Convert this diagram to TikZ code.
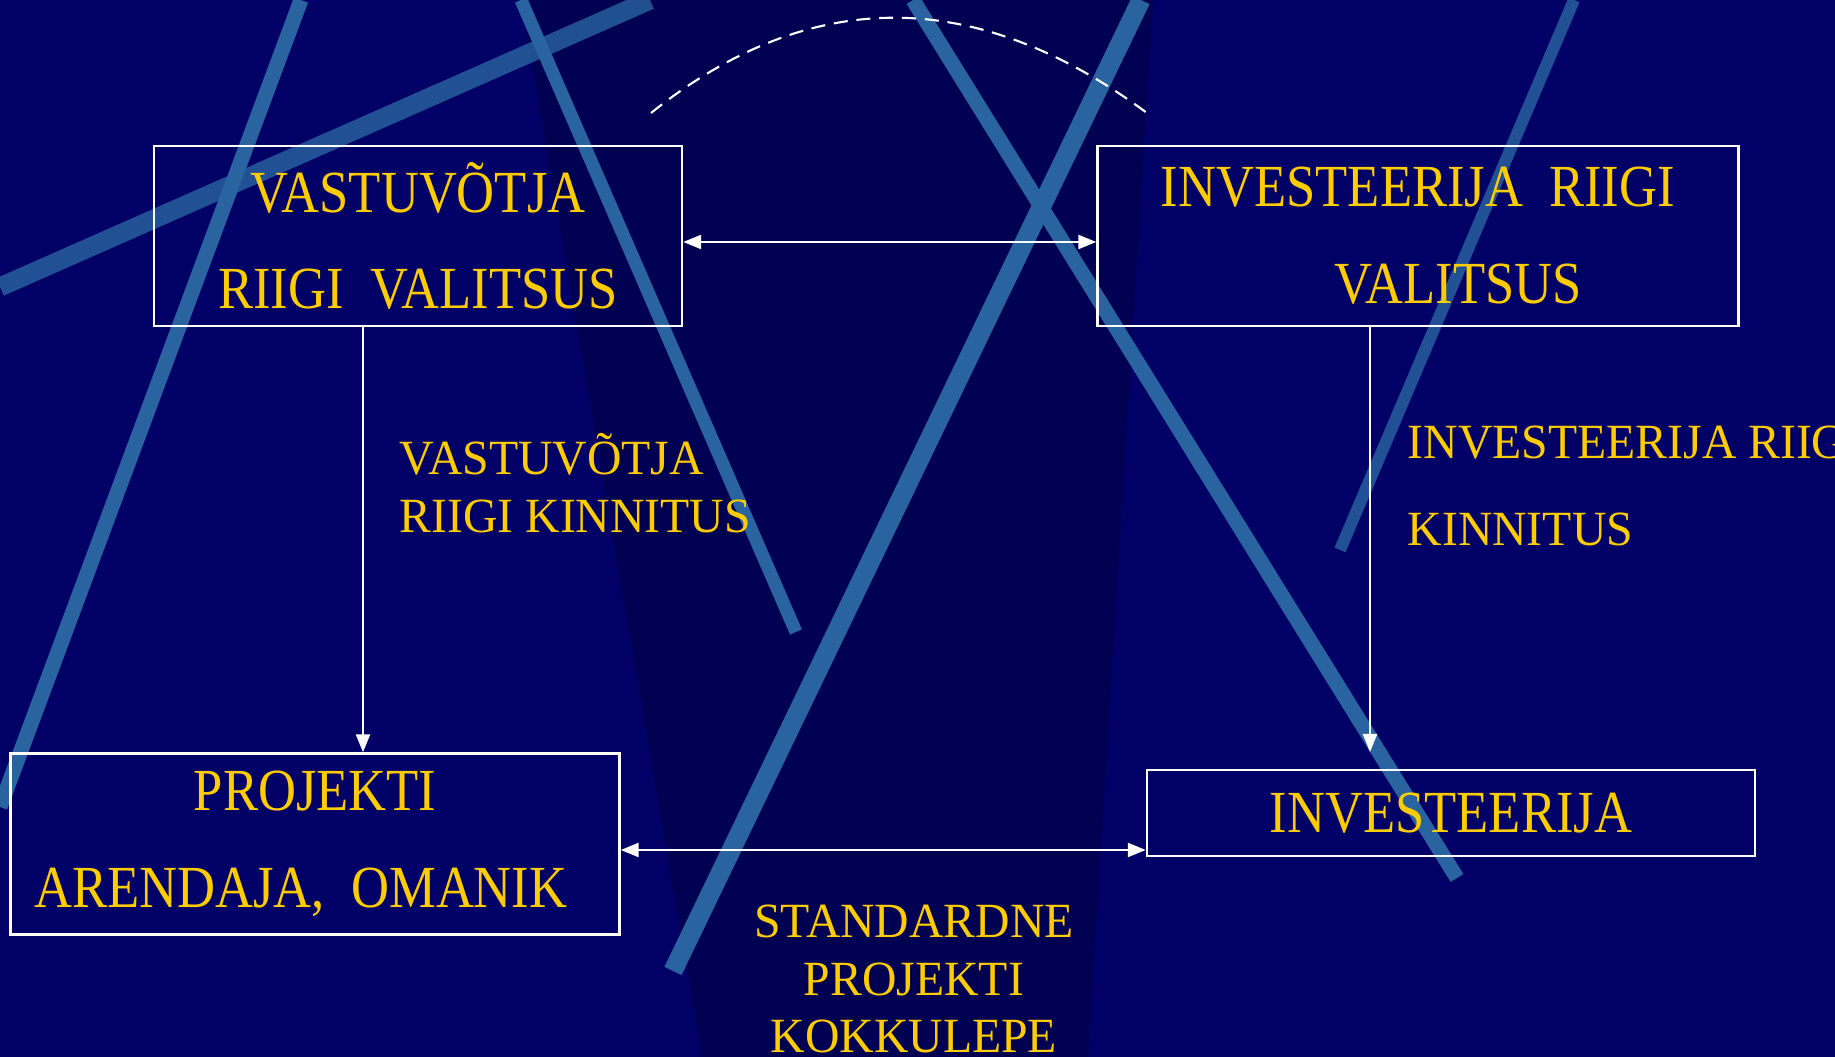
\documentclass[tikz,border=0pt]{standalone}
\usepackage{fontspec}
\setmainfont{Liberation Serif}
\newfontfamily\boxfont[FakeStretch=0.88]{Liberation Serif}
\newfontfamily\lblfont[FakeStretch=0.97]{Liberation Serif}
\usetikzlibrary{arrows.meta}
\definecolor{navy}{RGB}{0,0,102}
\definecolor{navydark}{RGB}{0,0,82}
\definecolor{streak}{RGB}{42,100,160}
\definecolor{gold}{RGB}{255,204,0}

\begin{document}
\begin{tikzpicture}[>={Triangle[length=1.8mm,width=1.4mm]},
  box/.style={draw=white,line width=0.7pt,inner sep=0pt,align=center,text=gold,
    font=\boxfont\fontsize{17pt}{27.5pt}\selectfont},
  lbl/.style={text=gold,inner sep=0pt,font=\lblfont\fontsize{14pt}{16.6pt}\selectfont},
  arr/.style={white,line width=0.7pt},
  streakline/.style={streak,line width=0.15cm}]
  \useasboundingbox (0,0) rectangle (18.35,10.57);
  \fill[navy] (0,0) rectangle (18.35,10.57);

  % background streaks
  \begin{scope}
    \clip (0,0) rectangle (18.35,10.57);
    \fill[navydark] (5.21,10.57) -- (11.53,10.57) -- (10.88,0) -- (7.02,0) -- cycle;
    \draw[streakline] (3.01,10.57) -- (0,2.50);
    \draw[streakline,line width=0.19cm,opacity=0.8] (6.50,10.57) -- (0,7.70);
    \draw[streakline,line width=0.13cm] (5.21,10.57) -- (7.96,4.25);
    \draw[streakline,line width=0.19cm] (11.41,10.57) -- (6.73,0.86);
    \draw[streakline] (9.13,10.57) -- (14.57,1.79);
    \draw[streakline,line width=0.12cm,opacity=0.8] (15.74,10.57) -- (13.40,5.07);
  \end{scope}

  % boxes
  \node[box,minimum width=5.28cm,minimum height=1.80cm] (v1) at (4.18,8.21)
    {VASTUVÕTJA\\RIIGI\ \ VALITSUS};
  \node[box,minimum width=6.41cm,minimum height=1.80cm] (v2) at (14.18,8.21)
    {INVESTEERIJA\ \ RIIGI\\\hspace*{0.8cm}VALITSUS};
  \node[box,minimum width=6.09cm,minimum height=1.81cm] (p1) at (3.15,2.13)
    {PROJEKTI\\ARENDAJA,\ \ OMANIK\hspace*{0.28cm}};
  \node[box,minimum width=6.08cm,minimum height=0.855cm] (i1) at (14.51,2.44)
    {INVESTEERIJA};

  % labels
  \node[lbl,align=left,anchor=west] (k1) at (3.99,5.74) {VASTUVÕTJA\\RIIGI KINNITUS};
  \node[lbl,align=left,anchor=west,font=\lblfont\fontsize{14pt}{24.6pt}\selectfont] (k2)
    at (14.07,5.71) {INVESTEERIJA RIIGI\\KINNITUS};
  \node[lbl,align=center,font=\lblfont\fontsize{14pt}{16.3pt}\selectfont] (k3) at (9.14,0.78)
    {STANDARDNE\\PROJEKTI\\KOKKULEPE};

  % connectors
  \coordinate (lx) at (3.63,0);
  \coordinate (rx) at (13.70,3.05);
  \coordinate (ty) at (0,8.15);
  \coordinate (by) at (0,2.07);
  \coordinate (arcL) at (6.51,9.44);
  \coordinate (arcR) at (11.47,9.44);
  \draw[arr,<->] (v1.east |- ty) -- (v2.west |- ty);
  \draw[arr,->] (v1.south -| lx) -- (p1.north -| lx);
  \draw[arr,->] (v2.south -| rx) -- (rx);
  \draw[arr,<->] (p1.east |- by) -- (i1.west |- by);
  \draw[white,line width=0.6pt,dash pattern=on 4pt off 2.5pt]
    (arcL) .. controls (8.10,10.71) and (9.75,10.71) .. (arcR);
\end{tikzpicture}
\end{document}
